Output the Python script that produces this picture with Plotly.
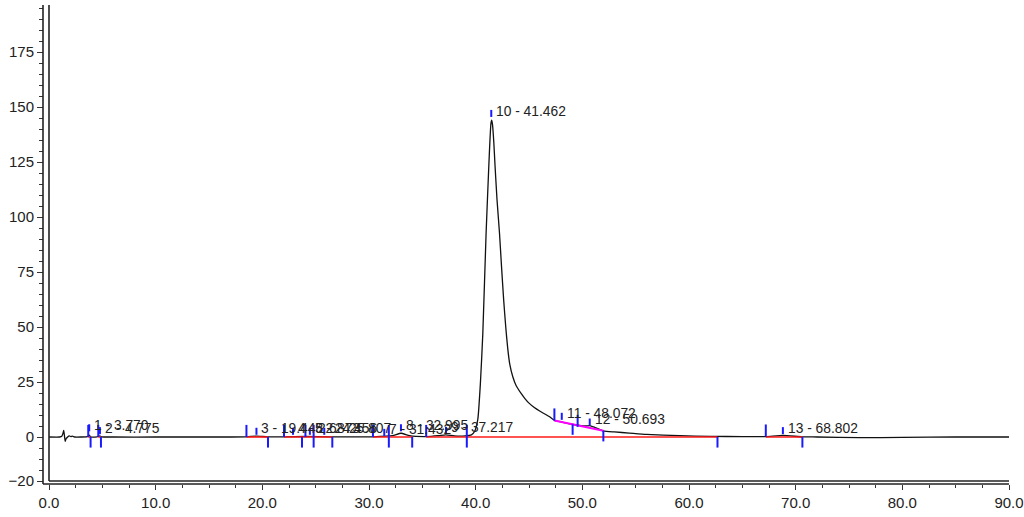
import plotly.graph_objects as go

# ---- chromatogram signal (time in min, signal value) ----
sig_t = [0, 1.0, 1.2, 1.3, 1.38, 1.45, 1.52, 1.6, 1.75, 1.9, 2.05, 2.2, 2.4, 3.0, 3.6, 3.77, 3.9, 4.5, 4.77, 4.9,
         6, 10, 15, 18.5, 19.45, 20.5, 22, 24, 26.5, 30.4, 32.2, 33.0, 33.8, 35.4, 36.5, 37.2, 38.0, 39.0,
         39.6, 39.9, 40.2, 40.45, 40.67, 40.98, 41.23, 41.35, 41.43, 41.5, 41.58, 41.7, 41.82, 42.0, 42.23,
         42.43, 42.63, 42.82, 43.0, 43.2, 43.48, 43.8, 44.26, 44.6, 45.0, 45.5, 46.0, 46.9, 47.4, 48.1, 49.0,
         49.7, 50.3, 50.7, 51.2, 51.97, 53.0, 54.4, 56.0, 59.1, 62.0, 65.0, 67.2, 68.8, 70.6, 72.0, 76.0,
         80.0, 85.0, 90.0]
sig_v = [0, 0, 0.3, 1.5, 3.0, 0.5, -2.0, -0.8, 0, 0.5, 0.2, 0.4, 0, 0, 0.2, 0.8, 0.1, 0.1, 0.5, 0.1,
         0, 0, 0, 0.1, 0.4, 0.1, 0.1, 0.3, 0.1, 0.1, 0.6, 1.7, 0.6, 0.2, 0.6, 1.0, 0.5, 0.5,
         1.0, 2.5, 8.0, 25.0, 47.0, 93.0, 123.0, 136.0, 142.5, 144.0, 142.0, 134.0, 123.0, 108.0, 93.0,
         77.0, 62.0, 50.0, 40.5, 33.0, 27.4, 23.3, 19.8, 17.6, 15.4, 13.4, 11.8, 9.3, 7.5, 6.8, 5.8,
         5.3, 5.0, 5.2, 4.3, 2.8, 2.3, 1.8, 1.2, 0.6, 0.3, 0.2, 0.2, 0.7, 0.1, 0.0, -0.3,
         -0.2, 0.0, 0.0]

# ---- integrated peaks ----
peak_no = [1, 2, 3, 4, 5, 6, 7, 8, 9, 10, 11, 12, 13]
peak_rt = [3.770, 4.775, 19.448, 22.873, 24.456, 25.807, 31.432, 32.995, 37.217, 41.462, 48.072, 50.693, 68.802]
apex_lo = [2.6, 1.3, 1.0, 1.0, 1.0, 1.0, 0.5, 2.6, 1.4, 145.5, 7.8, 5.2, 1.3]

# peak delimiters (time, signal level at the delimiter)
start_t = [3.68, 4.62, 18.51, 22.03, 24.04, 24.81, 30.37, 31.86, 35.36, 39.17, 47.38, 49.56, 67.2]
start_v = [0, 0, 0, 0, 0, 0, 0, 0, 0, 0, 7.5, 4.6, 0.2]
end_t = [3.9, 4.87, 20.53, 23.72, 24.81, 26.56, 31.86, 34.05, 39.17, 49.09, 51.97, 62.67, 70.63]
end_v = [0, 0, 0, 0, 0, 0, 0, 0, 0, 5.8, 2.8, 0, 0]

# baselines
base_from = [3.68, 4.62, 18.51, 22.03, 30.37, 35.36, 67.2]
base_to = [3.9, 4.87, 20.53, 26.56, 34.05, 62.67, 70.63]
skim_t = [47.38, 51.97]
skim_v = [7.5, 2.8]

x_ticks = [0, 10, 20, 30, 40, 50, 60, 70, 80, 90]
y_ticks = [-20, 0, 25, 50, 75, 100, 125, 150, 175]

FONT = "Liberation Sans, Arial, sans-serif"
fig = go.Figure()

fig.add_trace(go.Scatter(x=sig_t, y=sig_v, mode="lines",
                         line=dict(color="#111111", width=1.3, shape="spline", smoothing=0.5),
                         hoverinfo="skip", showlegend=False))

bx, by = [], []
for a, b in zip(base_from, base_to):
    bx += [a, b, None]
    by += [0, 0, None]
fig.add_trace(go.Scatter(x=bx, y=by, mode="lines", line=dict(color="#ff1a1a", width=1.6),
                         hoverinfo="skip", showlegend=False))
fig.add_trace(go.Scatter(x=skim_t, y=skim_v, mode="lines", line=dict(color="#ff00ff", width=2),
                         hoverinfo="skip", showlegend=False))

UP, DOWN, APEX = 5.5, 4.8, 3.2
tx, ty = [], []
for t, v in zip(start_t, start_v):
    tx += [t, t, None]
    ty += [v, v + UP, None]
for t, v in zip(end_t, end_v):
    tx += [t, t, None]
    ty += [v, v - DOWN, None]
for t, v in zip(peak_rt, apex_lo):
    tx += [t, t, None]
    ty += [v, v + APEX, None]
fig.add_trace(go.Scatter(x=tx, y=ty, mode="lines", line=dict(color="#1a1aff", width=2),
                         hoverinfo="skip", showlegend=False))

for n, t, v in zip(peak_no, peak_rt, apex_lo):
    fig.add_annotation(x=t, y=v + APEX - 0.5, text=f"{n} - {t:.3f}", showarrow=False,
                       xanchor="left", yanchor="middle", xshift=3,
                       font=dict(family=FONT, size=13.8, color="#222222"))

# frame geometry (paper fractions)
xd0 = (49 - 30) / 979
yd0 = (492 - 481) / 487
yax_pos = (43 - 30) / 979
xax_pos = (492 - 484) / 487

fig.update_layout(
    width=1024, height=517,
    margin=dict(l=30, r=15, t=5, b=25, autoexpand=False),
    paper_bgcolor="white", plot_bgcolor="white",
    font=dict(family=FONT, size=15, color="#222222"),
    xaxis=dict(domain=[xd0, 1], range=[0, 90], anchor="free", position=xax_pos, automargin=False,
               tickvals=x_ticks, ticktext=[f"{v:.1f}" for v in x_ticks],
               ticks="outside", ticklen=5, tickwidth=1.3, tickcolor="#333333",
               minor=dict(dtick=2.5, ticks="outside", ticklen=3, tickwidth=1.3, tickcolor="#333333"),
               showgrid=False, zeroline=False, showline=False,
               tickfont=dict(family=FONT, size=15, color="#222222")),
    yaxis=dict(domain=[yd0, 1], range=[-20, 196.4], anchor="free", position=yax_pos, automargin=False,
               tickvals=y_ticks, ticks="outside", ticklen=6, tickwidth=1.3, tickcolor="#333333",
               minor=dict(dtick=5, tick0=0, ticks="outside", ticklen=4, tickwidth=1.3, tickcolor="#333333"),
               showgrid=False, zeroline=False, showline=False,
               tickfont=dict(family=FONT, size=15, color="#222222")),
)

lc = dict(color="#222222", width=1.6)
fig.add_shape(type="line", xref="paper", yref="paper", x0=yax_pos, x1=yax_pos, y0=xax_pos, y1=1, line=lc)
fig.add_shape(type="line", xref="paper", yref="paper", x0=yax_pos, x1=1, y0=xax_pos, y1=xax_pos, line=lc)
fig.add_shape(type="line", xref="paper", yref="paper", x0=xd0, x1=xd0, y0=yd0, y1=1, line=lc)
fig.add_shape(type="line", xref="paper", yref="paper", x0=xd0, x1=1, y0=yd0, y1=yd0, line=lc)

fig.write_html("out.html", config={"displayModeBar": False},
               post_script="document.body.style.margin='0';document.body.style.overflow='hidden';")
